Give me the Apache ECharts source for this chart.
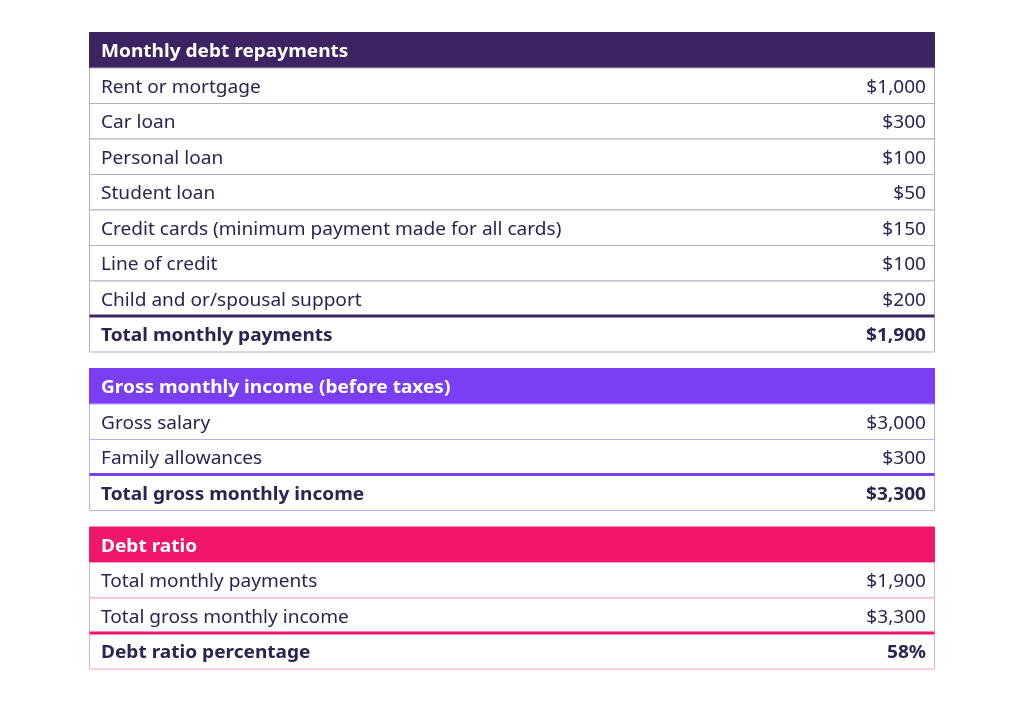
<!DOCTYPE html>
<html><head><meta charset="utf-8">
<script src="https://cdn.jsdelivr.net/npm/echarts@6/dist/echarts.min.js"></script>
<style>html,body{margin:0;padding:0;background:#fff}#c{width:1024px;height:701px}</style>
</head><body><div id="c"></div>
<script>
const sectionTitles = ['Monthly debt repayments', 'Gross monthly income (before taxes)', 'Debt ratio'];
const debtLabels = ['Rent or mortgage', 'Car loan', 'Personal loan', 'Student loan', 'Credit cards (minimum payment made for all cards)', 'Line of credit', 'Child and or/spousal support'];
const debtValues = ['$1,000', '$300', '$100', '$50', '$150', '$100', '$200'];
const debtTotal = ['Total monthly payments', '$1,900'];
const incomeLabels = ['Gross salary', 'Family allowances'];
const incomeValues = ['$3,000', '$300'];
const incomeTotal = ['Total gross monthly income', '$3,300'];
const ratioLabels = ['Total monthly payments', 'Total gross monthly income'];
const ratioValues = ['$1,900', '$3,300'];
const ratioTotal = ['Debt ratio percentage', '58%'];

const headColors = ['#3c2463', '#7a3ef4', '#f0176a'];
const borderColors = ['#b4b1bd', '#c0acf3', '#f3a6c4'];
const textColor = '#2e2350';
const FONT = '"Noto Sans"';
const FS = 17.5;
const SX = 1.09;
const ROW_H = 35.5, GAP = 16.5;

const sectionsData = [
  [debtLabels, debtValues, debtTotal],
  [incomeLabels, incomeValues, incomeTotal],
  [ratioLabels, ratioValues, ratioTotal]
];
const rows = [];
let r = 0;
sectionsData.forEach(function (sd, s) {
  rows.push({ kind: 'header', s: s, label: sectionTitles[s], value: '', top: r * ROW_H + s * GAP }); r++;
  sd[0].forEach(function (l, i) {
    rows.push({ kind: 'row', s: s, label: l, value: sd[1][i], top: r * ROW_H + s * GAP }); r++;
  });
  rows.push({ kind: 'total', s: s, label: sd[2][0], value: sd[2][1], top: r * ROW_H + s * GAP }); r++;
});
const totalH = r * ROW_H + 2 * GAP;

const chart = echarts.init(document.getElementById('c'), null, { renderer: 'canvas' });
chart.setOption({
  animation: false,
  grid: { left: 89, right: 89, top: 32, bottom: 701 - 32 - totalH },
  xAxis: { type: 'value', min: 0, max: 1, show: false },
  yAxis: { type: 'value', min: 0, max: totalH, inverse: true, show: false },
  series: [{
    type: 'custom',
    data: rows.map(function (d) { return [0, d.top]; }),
    renderItem: function (params, api) {
      const d = rows[params.dataIndex];
      const p0 = api.coord([0, d.top]);
      const p1 = api.coord([1, d.top + ROW_H]);
      const x0 = p0[0], y0 = p0[1], x1 = p1[0], y1 = p1[1];
      const cy = (y0 + y1) / 2;
      const children = [];
      const isHead = d.kind === 'header';
      children.push({
        type: 'rect',
        shape: { x: x0 + 0.5, y: y0 + 0.5, width: x1 - x0 - 1, height: y1 - y0 },
        style: { fill: isHead ? headColors[d.s] : '#ffffff', stroke: isHead ? headColors[d.s] : borderColors[d.s], lineWidth: 1 }
      });
      if (d.kind === 'total') {
        children.push({
          type: 'line',
          shape: { x1: x0 + 0.5, y1: y0, x2: x1 - 0.5, y2: y0 },
          style: { stroke: headColors[d.s], lineWidth: 3 },
          z2: 10
        });
      }
      const bold = d.kind !== 'row';
      const lx = x0 + 12, rx = x1 - 9;
      children.push({
        type: 'text',
        x: lx, y: cy + 2.5, scaleX: SX,
        style: {
          x: 0, y: 0, text: d.label, textAlign: 'left', textVerticalAlign: 'middle',
          fill: isHead ? '#ffffff' : textColor,
          font: (bold ? 'bold ' : '') + FS + 'px ' + FONT
        },
        z2: 20
      });
      if (d.value) {
        children.push({
          type: 'text',
          x: rx, y: cy + 2.5, scaleX: SX,
          style: {
            x: 0, y: 0, text: d.value, textAlign: 'right', textVerticalAlign: 'middle',
            fill: textColor,
            font: (bold ? 'bold ' : '') + FS + 'px ' + FONT
          },
          z2: 20
        });
      }
      return { type: 'group', children: children };
    }
  }]
});
</script>
</body></html>
